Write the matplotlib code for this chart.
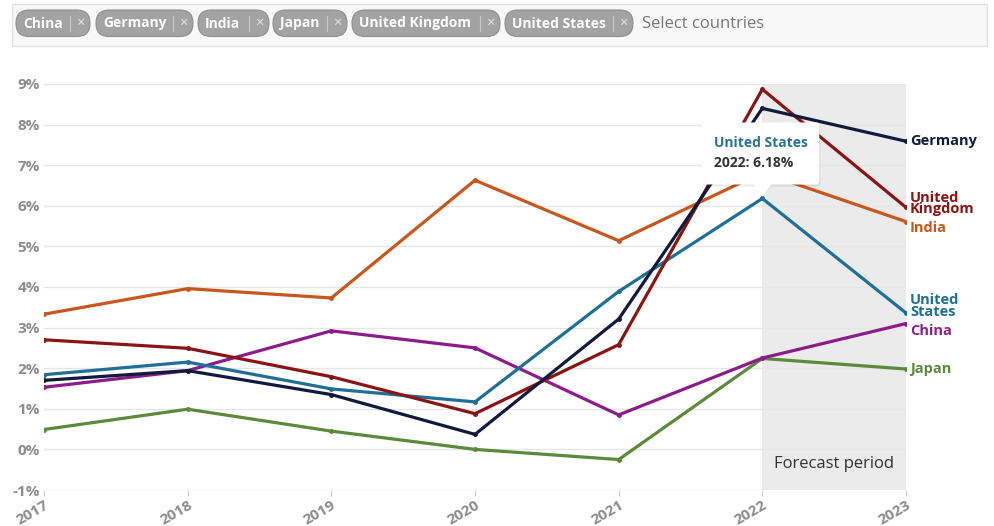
import matplotlib
matplotlib.use("Agg")
import matplotlib.pyplot as plt
from matplotlib.patches import FancyBboxPatch, Polygon
from matplotlib.transforms import IdentityTransform

plt.rcParams["font.family"] = ["Open Sans", "DejaVu Sans"]

# Inflation-like rates (%)
years = [2017, 2018, 2019, 2020, 2021, 2022, 2023]
china = [1.53, 1.94, 2.92, 2.50, 0.85, 2.25, 3.10]
germany = [1.70, 1.94, 1.35, 0.37, 3.21, 8.40, 7.59]
india = [3.33, 3.96, 3.73, 6.63, 5.14, 6.82, 5.61]
japan = [0.49, 0.99, 0.45, 0.00, -0.25, 2.24, 1.98]
uk = [2.70, 2.49, 1.79, 0.88, 2.58, 8.87, 5.96]
us = [1.84, 2.15, 1.49, 1.17, 3.89, 6.18, 3.36]

countries = ["China", "Germany", "India", "Japan", "United Kingdom", "United States"]
colors = {
    "China": "#8c1c8c",
    "Germany": "#111a3d",
    "India": "#c9561c",
    "Japan": "#5b8a3a",
    "United Kingdom": "#8a1313",
    "United States": "#1f6f96",
}
series = {"China": china, "Germany": germany, "India": india,
          "Japan": japan, "United Kingdom": uk, "United States": us}
end_labels = {"China": "China", "Germany": "Germany", "India": "India",
              "Japan": "Japan", "United Kingdom": "United\nKingdom",
              "United States": "United\nStates"}
label_shift = {"China": -7, "Germany": 0, "India": -6, "Japan": 0,
               "United Kingdom": 4, "United States": 7}

W, H = 994, 526
fig = plt.figure(figsize=(W / 100, H / 100), dpi=100)
ax = fig.add_axes([44 / W, 1 - 490 / H, (906 - 44) / W, (490 - 84) / H])

ax.axvspan(2022, 2023, color="#ebebeb", zorder=0, lw=0)

order = ["Japan", "China", "India", "United States", "United Kingdom", "Germany"]
for name in order:
    ax.plot(years, series[name], color=colors[name], lw=2.3, marker="o",
            markersize=2.5, zorder=3, solid_joinstyle="miter")

ax.set_xlim(2017, 2023)
ax.set_ylim(-1, 9)
ax.set_yticks(range(-1, 10))
ax.set_yticklabels([f"{v}%" for v in range(-1, 10)])
ax.set_xticks(years)
ax.set_xticklabels([str(y) for y in years], rotation=30, ha="right",
                   rotation_mode="anchor")
for s in ax.spines.values():
    s.set_visible(False)
ax.grid(axis="y", color="#e6e6e6", lw=1, zorder=1)
ax.tick_params(axis="y", length=0, pad=3, labelsize=11, labelcolor="#8c8c8c")
ax.tick_params(axis="x", length=4, color="#cccccc", pad=2, labelsize=11,
               labelcolor="#8c8c8c")
for t in ax.get_xticklabels() + ax.get_yticklabels():
    t.set_fontweight("bold")

ax.text(2022.5, -0.37, "Forecast period", ha="center", va="center",
        fontsize=12, color="#333333")

# end-of-line labels
for name in countries:
    ax.annotate(end_labels[name], xy=(2023, series[name][-1]),
                xytext=(4, label_shift[name]), textcoords="offset pixels",
                ha="left", va="center", fontsize=10.5, fontweight="bold",
                color=colors[name], linespacing=0.8, annotation_clip=False)

# tooltip for United States 2022
px, py = ax.transData.transform((2022, us[5]))
shadow = FancyBboxPatch((px - 59, py + 12), 117, 62,
                        boxstyle="round,pad=0,rounding_size=3",
                        transform=IdentityTransform(), fc="#000000",
                        alpha=0.08, ec="none", zorder=5, clip_on=False)
box = FancyBboxPatch((px - 60, py + 14), 117, 62,
                     boxstyle="round,pad=0,rounding_size=3",
                     transform=IdentityTransform(), fc="white", ec="none",
                     zorder=6, clip_on=False)
tri = Polygon([(px - 9, py + 14.5), (px + 9, py + 14.5), (px, py + 2)],
              closed=True, transform=IdentityTransform(), fc="white",
              ec="none", zorder=6, clip_on=False)
for p in (shadow, box, tri):
    ax.add_artist(p)
ax.annotate("United States", xy=(2022, us[5]), xytext=(-48, 55),
            textcoords="offset pixels", ha="left", va="center", fontsize=10,
            fontweight="bold", color="#2b7199", zorder=7)
ax.annotate(f"{years[5]}: {us[5]:.2f}%", xy=(2022, us[5]), xytext=(-48, 35),
            textcoords="offset pixels", ha="left", va="center", fontsize=10,
            fontweight="bold", color="#333333", zorder=7)

# country selector bar at top
bar = FancyBboxPatch((12, H - 46), 975, 42, boxstyle="square,pad=0",
                     transform=IdentityTransform(), fc="#f8f8f8",
                     ec="#e2e2e2", lw=1)
fig.add_artist(bar)
chip_x = [(16, 90), (96, 193), (198, 269), (273, 347), (352, 500), (505, 633)]
for name, (x0, x1) in zip(countries, chip_x):
    chip = FancyBboxPatch((x0, H - 36.5), x1 - x0, 26.5,
                          boxstyle="round,pad=0,rounding_size=13",
                          transform=IdentityTransform(), fc="#a3a3a3",
                          ec="#8f8f8f", lw=0.8)
    fig.add_artist(chip)
    fig.text((x0 + 7) / W, 1 - 23.5 / H, name, ha="left", va="center",
             fontsize=10, fontweight="bold", color="white")
    fig.add_artist(plt.Line2D([x1 - 20, x1 - 20], [H - 31, H - 16],
                              transform=IdentityTransform(), color="#c8c8c8",
                              lw=0.8))
    fig.text((x1 - 10) / W, 1 - 23.5 / H, "×", ha="center", va="center",
             fontsize=10.5, color="#e6e6e6")
fig.text(642 / W, 1 - 23.5 / H, "Select countries", ha="left", va="center",
         fontsize=12, color="#777777")

fig.savefig("out.png", dpi=100)
